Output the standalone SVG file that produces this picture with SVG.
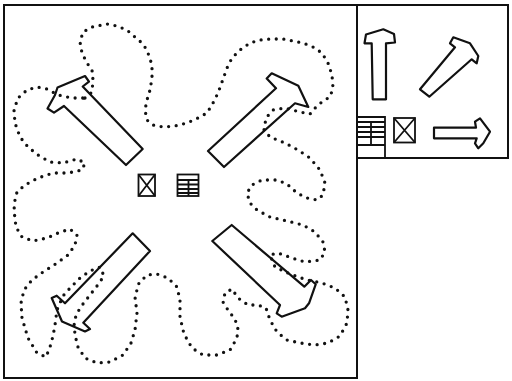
<svg xmlns="http://www.w3.org/2000/svg" width="512" height="381" viewBox="0 0 512 381">
<defs>
<style>
.frame{fill:none;stroke:#111;stroke-width:2}
.arrow{fill:none;stroke:#111;stroke-width:2.2;stroke-linejoin:round}
.icon{fill:none;stroke:#111;stroke-width:1.8}
.dots{fill:none;stroke:#111;stroke-width:3.3;stroke-linecap:round;stroke-dasharray:0 7.6}
</style>
</defs>
<rect width="512" height="381" fill="#fff"/>
<g id="frames">
<rect class="frame" x="4" y="5" width="353" height="373"/>
<rect class="frame" x="357" y="5" width="151" height="153"/>
</g>
<g id="connectors">
<path class="dots" d="M85,98 L92,92 L93,80 L92,70 L87,63 L82,53 L80,42 L83,32 L92,27 L107,24 L117,26 L127,30 L135,37 L142,43 L147,50 L152,65 L152,78 L150,90 L147,100 L145,110 L147,120 L153,125 L163,127 L175,126 L187,123 L198,118 L207,113 L213,103 L218,93 L222,82 L227,68 L232,58 L240,50 L250,43 L260,40 L270,39 L283,39 L293,41 L303,43 L313,47 L322,53 L328,63 L332,75 L333,88 L330,97 L323,101 L316,107 L310,114 L300,112 L285,108 L273,110 L266,118 L264,130 L270,137 L285,143 L298,150 L310,158 L320,170 L325,183 L323,195 L317,200 L307,198 L297,193 L287,184 L277,180 L262,180 L252,185 L247,193 L250,203 L257,210 L270,217 L287,221 L303,225 L315,232 L323,242 L325,252 L320,260 L305,262 L292,258 L278,253 L270,255 L275,267 L290,274 L307,280 L322,283 L335,288 L345,297 L348,310 L347,323 L340,336 L328,343 L315,345 L300,343 L287,340 L277,332 L270,320 L266,308 L258,305 L248,305 L238,298 L232,289 L225,293 L223,302 L228,310 L234,318 L238,326 L237,338 L230,350 L217,355 L203,355 L192,348 L184,334 L180,317 L180,300 L177,287 L168,278 L157,274 L147,275 L139,283 L135,297 L137,313 L135,330 L131,343 L123,355 L110,362 L97,363 L85,358 L78,347 L75,335 L74,322 L77,313 L83,304 L90,295 L97,286 L104,276 L100,267 L90,271 L80,278 L71,287 L63,296 L57,310 L55,325 L53,336 L50,347 L46,357 L37,353 L28,338 L22,318 L21,303 L24,290 L32,280 L43,272 L57,263 L68,255 L75,245 L77,235 L70,229 L58,233 L47,238 L33,241 L22,237 L16,227 L14,210 L15,200 L17,192 L25,185 L38,178 L53,173 L68,173 L82,170 L85,163 L77,159 L63,163 L50,162 L38,155 L28,147 L20,137 L15,123 L14,110 L18,98 L27,90 L37,87 L47,89 L58,95 L72,98 Z"/>
</g>
<g id="arrow-upper-left">
<polygon class="arrow" points="85,76 89,81.7 82.7,86.5 142.7,149 126,165 64,106 54,112.7 47.5,108.5 55,95 57.5,87.5"/>
</g>
<g id="arrow-upper-right">
<polygon class="arrow" points="271.7,73.3 298.3,85.7 308.3,107 295,103.3 224,167 208,151 276,88.3 266.7,78.5"/>
</g>
<g id="arrow-lower-left">
<polygon class="arrow" points="132.7,233.3 150,251 83.3,322.7 90,329 85,331.5 62,321.5 51.7,298 56.7,295.7 65,303.3"/>
</g>
<g id="arrow-lower-right">
<polygon class="arrow" points="212.3,241 231.7,225 304.3,286.7 311,280 315.7,284.3 309,303.3 305,308.3 281.7,316.7 276.7,313.3 280,305"/>
</g>
<g id="center-crossed-box">
<rect class="icon" x="138.5" y="174.5" width="16.5" height="21.5"/>
<path class="icon" d="M138.5,174.5 L155,196 M155,174.5 L138.5,196"/>
</g>
<g id="center-grid">
<rect class="icon" x="177.5" y="174.5" width="21" height="21.5"/>
<path class="icon" d="M177.5,180 H198.5 M177.5,184.5 H198.5 M177.5,189 H198.5 M177.5,193 H198.5 M188.5,180 V196"/>
</g>
<g id="legend-up-arrow">
<polygon class="arrow" points="372.7,99.3 386,99.3 386,43.3 395,42.5 394,34 383.3,29.3 366,34.5 364.5,43.3 371.7,43.3"/>
</g>
<g id="legend-diagonal-arrow">
<polygon class="arrow" points="455,47.3 450,43.3 453.3,37.3 470,43.3 478.3,56 476.7,63.3 471.7,59.3 429.3,96.7 420,89.3"/>
</g>
<g id="legend-right-arrow">
<polygon class="arrow" points="434,127.7 476,127.7 475,121.7 480,118.3 490,131.7 483.3,143.3 478.3,148.3 475,143.3 476.7,138.3 434,138.3"/>
</g>
<g id="legend-grid">
<path class="icon" d="M357,117 H385 V158 M357,122 H385 M357,127 H385 M357,132 H385 M357,137 H385 M357,145 H385 M371,122 V145"/>
</g>
<g id="legend-crossed-box">
<rect class="icon" x="394" y="118" width="21" height="24.5"/>
<path class="icon" d="M394,118 L415,142.5 M415,118 L394,142.5"/>
</g>
</svg>
